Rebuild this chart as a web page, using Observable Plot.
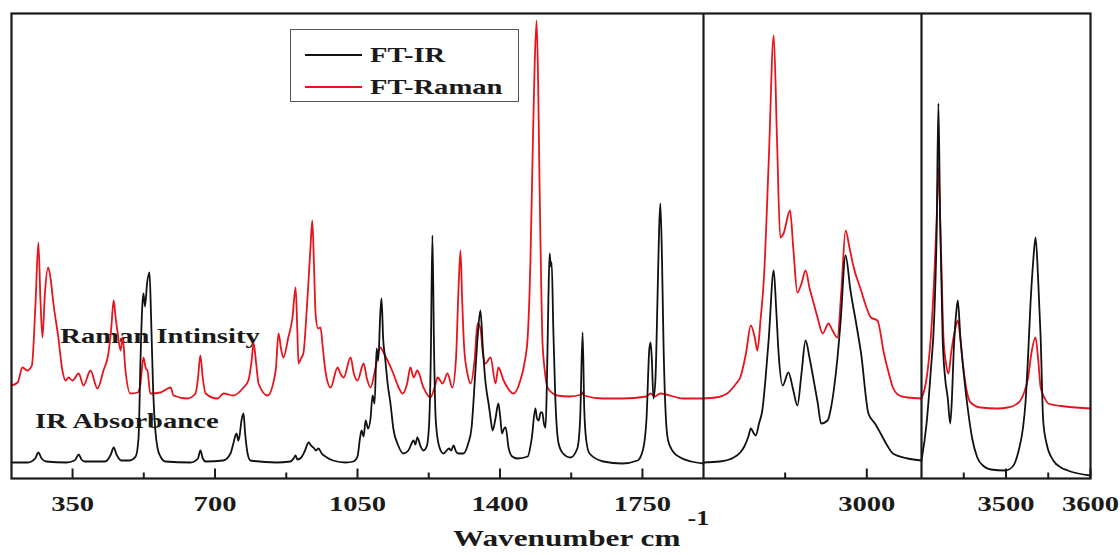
<!DOCTYPE html>
<html>
<head>
<meta charset="utf-8">
<script src="https://cdn.jsdelivr.net/npm/d3@7"></script>
<script src="https://cdn.jsdelivr.net/npm/@observablehq/plot@0.6"></script>
<style>
  html, body { margin: 0; padding: 0; background: #fff; }
  #wrap { position: relative; width: 1120px; height: 555px; }
  #legend { position: absolute; left: 290px; top: 29px; width: 229px; height: 73px; border: 1.5px solid #555; background: #fff; box-sizing: border-box; }
  .lg-row { position: absolute; left: 0; height: 30px; width: 100%; }
  .lg-line { position: absolute; left: 14px; width: 57px; height: 0; border-top: 2.5px solid #111; top: 14px; }
  .lg-text { position: absolute; left: 79px; top: 0; font: bold 22px "Liberation Serif", "Times New Roman", serif; color: #1a1a1a; transform: scaleX(1.3); transform-origin: left center; line-height: 30px; white-space: nowrap; }
</style>
</head>
<body>
<div id="wrap"></div>
<script>
// ---- data (wavenumber in cm^-1, intensity in arbitrary units) ----
const irWavenumber = [
  200,240,258,266,274,285,335,355,365,372,380,430,444,451,458,470,490,505,512,517,521,524,528,533,539,543,548,553,559,566,578,
  640,658,664,670,677,720,738,745,750,753,757,760,765,770,774,780,787,850,885,893,898,902,912,920,930,936,944,948,954,962,971,990,
  1021,1040,1050,1056,1060,1065,1070,1076,1082,1087,1092,1097,1101,1106,1109,1113,1118,1124,1131,1138,1150,1163,1175,1188,1192,1197,
  1205,1212,1220,1226,1230,1234,1238,1242,1250,1261,1275,1280,1286,1292,1298,1310,1322,1330,1340,1345,1352,1358,1364,1368,1372,1377,
  1382,1389,1396,1401,1405,1410,1414,1421,1430,1443,1468,1478,1487,1491,1495,1500,1504,1508,1512,1515,1519,1522,1525,1527,1531,1536,
  1544,1555,1573,1590,1597,1603,1607,1612,1620,1654,1700,1738,1752,1760,1767,1770,1773,1777,1782,1787,1791,1794,1798,1802,1807,1813,
  1825,1843,1870,1900,
  2800,2820,2837,2845,2850,2855,2858,2861,2864,2868,2872,2876,2880,2886,2889,2892,2897,2904,2910,2915,2920,2925,2930,2935,2940,2944,
  2952,2956,2960,2964,2968,2974,2980,2987,2993,3002,3010,3017,3025,3032,3050,3067,
  3400,3406,3411,3415,3418,3420,3422,3425,3428,3431,3434,3436,3438,3441,3443,3446,3450,3454,3460,3466,3474,3482,3499,3508,3515,3520,
  3523,3526,3529,3532,3535,3538,3541,3544,3548,3556,3565,3573,3600
];
const irAbsorbance = [
  16,16,20,26,20,17,16,18,24,19,17,17,24,31,24,18,18,22,40,120,170,185,172,195,206,160,88,50,30,22,17,
  16,20,28,20,17,18,25,35,43,45,38,42,58,65,45,25,18,16,17,20,23,19,21,27,36,33,30,28,30,25,22,18,
  16,17,22,40,48,42,58,50,60,83,75,130,118,165,180,140,120,95,75,50,33,25,28,38,34,41,
  32,28,32,55,120,243,130,60,33,25,30,28,33,27,25,25,35,50,110,141,168,130,98,85,75,60,
  48,60,75,60,45,50,51,31,22,20,22,40,70,60,58,66,66,55,51,90,180,225,212,216,150,80,
  35,25,21,30,60,146,70,38,25,17,15,18,30,60,130,136,120,80,100,180,250,275,220,130,65,38,
  27,21,17,15,
  16,17,21,26,32,42,50,46,43,55,68,100,141,208,170,125,93,106,88,73,105,138,120,98,75,55,
  58,70,91,120,158,223,188,155,125,65,55,45,33,25,20,18,
  18,55,108,160,250,375,260,141,100,81,55,80,125,165,178,141,105,75,40,21,12,9,8,12,28,50,
  75,120,175,215,241,200,141,58,35,18,11,8,3
];
const ramanWavenumber = [
  200,215,227,239,250,259,266,271,276,282,290,296,303,315,325,333,340,350,365,377,394,411,426,438,445,451,456,460,468,473,480,492,
  510,517,524,530,534,541,566,591,598,632,652,658,664,670,677,706,721,745,770,782,789,795,801,807,829,849,856,862,868,880,890,898,
  902,905,911,917,924,930,935,939,943,947,953,959,965,971,984,1001,1008,1016,1033,1041,1050,1065,1073,1082,1094,1106,1115,1124,1138,
  1150,1161,1172,1180,1188,1197,1212,1229,1240,1247,1259,1271,1283,1292,1298,1303,1307,1312,1320,1328,1338,1345,1352,1358,1364,1377,
  1389,1396,1409,1420,1433,1450,1460,1468,1475,1480,1485,1490,1494,1497,1501,1504,1510,1517,1530,1541,1570,1600,1603,1606,1654,1700,
  1760,1770,1780,1794,1850,1900,
  2800,2815,2829,2840,2845,2852,2858,2863,2866,2870,2874,2880,2886,2890,2894,2898,2906,2910,2915,2920,2925,2930,2935,2940,2946,2953,
  2958,2964,2969,2974,2979,2984,2993,3000,3005,3013,3021,3027,3032,3040,3050,3067,
  3400,3406,3411,3415,3418,3420,3423,3426,3429,3432,3435,3440,3443,3446,3449,3453,3458,3470,3490,3502,3515,3521,3526,3530,3535,3538,
  3541,3546,3550,3570,3600
];
const ramanIntensity = [
  93,96,111,108,113,175,236,180,141,185,211,200,175,141,108,98,101,98,105,93,108,90,108,125,150,178,160,148,128,141,108,85,
  86,95,121,110,108,85,86,91,83,80,85,100,123,100,85,80,85,83,91,98,115,135,115,95,83,108,145,130,121,141,160,191,
  150,115,120,125,160,200,235,258,215,165,150,151,130,108,91,111,105,101,121,105,98,115,100,91,110,131,125,118,105,
  92,85,95,111,101,108,91,81,92,101,95,105,91,120,188,228,180,131,105,95,120,155,150,125,115,121,
  95,111,98,90,85,98,115,141,220,320,410,458,390,300,200,141,108,91,85,83,82,84,86,83,80,80,
  82,85,82,85,80,80,
  80,81,85,95,101,125,153,140,128,160,200,320,443,340,241,245,268,230,186,195,208,190,175,160,145,155,
  148,141,190,248,230,211,188,170,161,158,125,105,91,83,81,80,
  80,100,141,200,260,311,230,141,115,105,125,150,158,140,115,90,76,71,70,71,76,85,100,125,141,120,
  91,80,75,72,70
];
const panelDomain = [200, 1900, 2800, 3067, 3400, 3600];
const panelBreaks = [1900, 3400];
const majorTicks = [350, 700, 1050, 1400, 1750, 3000, 3500, 3600];
const minorTicks = [525, 875, 1225, 1575, 2900, 3450, 3550];
const annotations = [
  {label: "Raman Intinsity", wn: 320, value: 143},
  {label: "IR Absorbance", wn: 258, value: 58}
];
const seriesNames = ["FT-IR", "FT-Raman"];
const seriesColors = ["#111111", "#e8141c"];

// ---- build tables ----
const panelOf = wn => wn <= 1900 ? 0 : wn <= 3067 ? 1 : 2;
const ir = irWavenumber.map((wn, i) => ({wn, value: irAbsorbance[i], panel: panelOf(wn)}));
const raman = ramanWavenumber.map((wn, i) => ({wn, value: ramanIntensity[i], panel: panelOf(wn)}));
const tickMarks = [
  ...majorTicks.map(wn => ({wn, len: 10})),
  ...minorTicks.map(wn => ({wn, len: 6}))
];

const ink = "#1a1a1a";
const chart = Plot.plot({
  width: 1120,
  height: 555,
  marginLeft: 11,
  marginRight: 30,
  marginTop: 13,
  marginBottom: 77,
  style: {fontFamily: "'Liberation Serif', 'Times New Roman', serif", fontWeight: "bold", background: "#fff", color: ink},
  x: {type: "linear", domain: panelDomain, range: [11, 703, 703, 921, 921, 1090]},
  y: {domain: [0, 465], axis: null},
  marks: [
    Plot.text(annotations, {x: "wn", y: "value", text: "label", textAnchor: "start", fontSize: 22, fill: ink}),
    Plot.line(raman, {x: "wn", y: "value", z: "panel", stroke: seriesColors[1], strokeWidth: 1.8, curve: "monotone-x"}),
    Plot.line(ir, {x: "wn", y: "value", z: "panel", stroke: seriesColors[0], strokeWidth: 1.8, curve: "monotone-x"}),
    Plot.link(tickMarks, {x1: "wn", x2: "wn", y1: d => 0, y2: d => d.len, stroke: ink, strokeWidth: 2}),
    Plot.ruleX(panelBreaks, {stroke: ink, strokeWidth: 2.2}),
    Plot.frame({stroke: ink, strokeWidth: 2.2}),
    Plot.axisX({ticks: majorTicks, tickSize: 0, tickPadding: 17, tickFormat: d => String(d), fontSize: 22, label: null, fill: ink}),
    Plot.text(["Wavenumber cm"], {frameAnchor: "bottom", dx: -98, dy: 67, textAnchor: "start", fontSize: 24, fill: ink}),
    Plot.text(["-1"], {frameAnchor: "bottom", dx: 687 - 550.5, dy: 46, textAnchor: "start", fontSize: 20, fill: ink})
  ]
});

const wrap = document.getElementById("wrap");
wrap.appendChild(chart);

// widen glyphs like the reference (horizontally stretched typography)
chart.querySelectorAll("text").forEach(t => {
  const len = t.getComputedTextLength();
  if (len > 0) {
    t.setAttribute("textLength", (len * 1.3).toFixed(1));
    t.setAttribute("lengthAdjust", "spacingAndGlyphs");
  }
});

// legend
const legend = document.createElement("div");
legend.id = "legend";
seriesNames.forEach((name, i) => {
  const row = document.createElement("div");
  row.className = "lg-row";
  row.style.top = (i === 0 ? 10 : 42) + "px";
  const line = document.createElement("div");
  line.className = "lg-line";
  line.style.borderTopColor = seriesColors[i];
  const txt = document.createElement("div");
  txt.className = "lg-text";
  txt.textContent = name;
  row.appendChild(line);
  row.appendChild(txt);
  legend.appendChild(row);
});
wrap.appendChild(legend);
</script>
</body>
</html>
